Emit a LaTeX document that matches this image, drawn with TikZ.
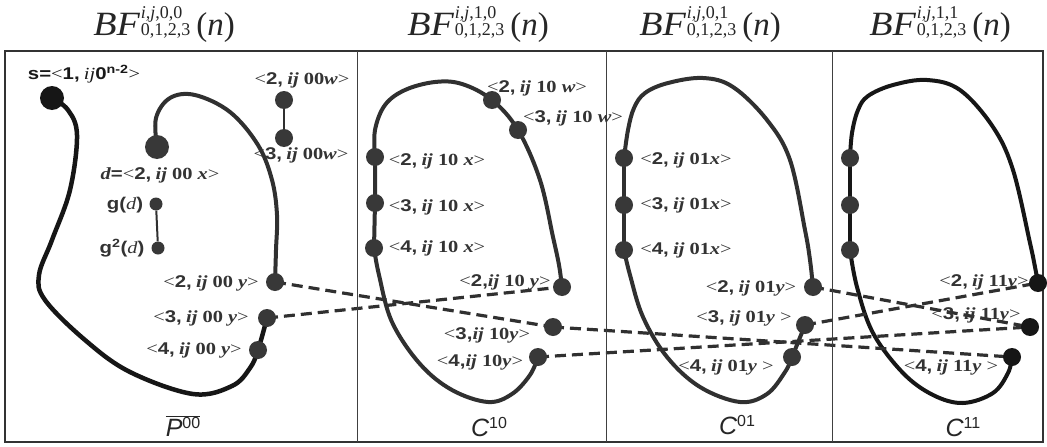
\documentclass[tikz,border=0pt]{standalone}
\usepackage{fontspec}
\setmainfont{Liberation Serif}
\newfontfamily\lf[FakeStretch=1.2]{Liberation Serif}
\newfontfamily\lsf[FakeStretch=1.2]{Liberation Sans}
\newfontfamily\tf[FakeStretch=1.12]{Liberation Serif}
\newfontfamily\capsf{Liberation Sans}
\pgfdeclarelayer{bg}
\pgfsetlayers{bg,main}
\definecolor{linec}{HTML}{303030}
\definecolor{darkc}{HTML}{161616}
\definecolor{dotc}{HTML}{383838}
\definecolor{txtc}{HTML}{333333}
\newcommand\lab[2]{{\lf\mdseries<}{\lsf\bfseries #1,}\ {\lf\bfseries #2}{\lf\mdseries>}}
\newcommand\labt[2]{{\lf\mdseries<}{\lsf\bfseries #1,}{\lf\bfseries #2}{\lf\mdseries>}}
\newcommand\ttl[1]{{\fontsize{34}{34}\selectfont\tf\itshape BF}\kern1pt{\fontsize{18}{13.5}\selectfont\begin{tabular}[b]{@{}l@{}}\textit{i,j},#1\\0,1,2,3\end{tabular}}\kern6pt{\fontsize{33}{33}\selectfont(\textit{n})}}
\newcommand\cl[2]{{\fontsize{25}{25}\selectfont\capsf\itshape #1}\raisebox{8pt}{\fontsize{16}{16}\selectfont\capsf #2}}
\tikzset{
  dotn/.style={circle, fill=dotc, inner sep=0pt, minimum size=18pt},
  bigdot/.style={dotn, minimum size=24pt},
  smalldot/.style={dotn, minimum size=13pt},
  curve/.style={line width=4pt, draw=linec, line cap=round, line join=round},
  dashl/.style={line width=3.2pt, draw=linec, dash pattern=on 11pt off 6pt},
  thinl/.style={line width=2pt, draw=linec},
  lbl/.style={inner sep=0pt, text=txtc, font=\fontsize{17}{17}\selectfont},
  ttlst/.style={inner sep=0pt, anchor=base, text=black!85},
  frame/.style={line width=1.2pt, draw=black!80},
  divl/.style={line width=1pt, draw=black!75}
}
\begin{document}
\begin{tikzpicture}[x=1pt,y=-1pt]
\useasboundingbox (0,0) rectangle (1047,447);
% titles
\node[ttlst] (t1) at (164,35) {\ttl{0,0}};
\node[ttlst] (t2) at (478,35) {\ttl{1,0}};
\node[ttlst] (t3) at (710,35) {\ttl{0,1}};
\node[ttlst] (t4) at (940,35) {\ttl{1,1}};
% frame
\draw[frame] (5,51) rectangle (1043,442);
\draw[divl] (357,51) -- (357,442);
\draw[divl] (606,51) -- (606,442);
\draw[divl] (832,51) -- (832,442);
% ---------- P00 dots
\node[bigdot, fill=darkc] (s) at (52,98) {};
\node[bigdot] (d) at (157,147) {};
\node[smalldot] (g1) at (156,204) {};
\node[smalldot] (g2) at (158,248) {};
\node[dotn] (aw2) at (284,100) {};
\node[dotn] (aw3) at (284,138) {};
\node[dotn] (ay2) at (275,282) {};
\node[dotn] (ay3) at (267,318) {};
\node[dotn] (ay4) at (258,350) {};
% ---------- C10 dots
\node[dotn] (bx2) at (375,157) {};
\node[dotn] (bx3) at (375,203) {};
\node[dotn] (bx4) at (374,248) {};
\node[dotn] (bw2) at (492,100) {};
\node[dotn] (bw3) at (518,130) {};
\node[dotn] (by2) at (562,287) {};
\node[dotn] (by3) at (553,327) {};
\node[dotn] (by4) at (538,357) {};
% ---------- C01 dots
\node[dotn] (cx2) at (624,158) {};
\node[dotn] (cx3) at (624,205) {};
\node[dotn] (cx4) at (624,250) {};
\node[dotn] (cy2) at (813,287) {};
\node[dotn] (cy3) at (805,325) {};
\node[dotn] (cy4) at (792,357) {};
% ---------- C11 dots
\node[dotn] (ex2) at (850,158) {};
\node[dotn] (ex3) at (850,205) {};
\node[dotn] (ex4) at (850,250) {};
\node[dotn, fill=darkc] (ey2) at (1038,283) {};
\node[dotn, fill=darkc] (ey3) at (1030,327) {};
\node[dotn, fill=darkc] (ey4) at (1012,357) {};
% ---------- lines
\begin{pgfonlayer}{bg}
\fill[white] (0,0) rectangle (1047,447);
\draw[curve, draw=darkc, line width=4.5pt] plot[smooth, tension=0.6] coordinates {(s.center) (68,110) (77,135) (70,190) (52,240) (39,275) (45,300) (85,340) (130,372) (193,394) (232,386) (250,368) (ay4.center) (ay3.center)};
\draw[curve] plot[smooth, tension=0.6] coordinates {(d.center) (156,118) (170,98) (195,95) (230,112) (258,145) (272,180) (277,215) (276,250) (ay2.center)};
\draw[thinl] (aw2) -- (aw3);
\draw[thinl] (g1) -- (g2);
% C10
\draw[curve] (bx4.center) -- (bx3.center) -- (bx2.center);
\draw[curve] plot[smooth, tension=0.6] coordinates {(bx2.center) (375,130) (385,105) (405,90) (435,82) (462,84) (bw2.center) (bw3.center) (540,180) (553,237) (559,265) (by2.center)};
\draw[curve] plot[smooth, tension=0.6] coordinates {(bx4.center) (379,275) (392,322) (420,364) (452,390) (488,402) (512,394) (530,375) (by4.center)};
% C01
\draw[curve] (cx4.center) -- (cx3.center) -- (cx2.center);
\draw[curve] plot[smooth, tension=0.6] coordinates {(cx2.center) (628,130) (634,108) (645,93) (668,83) (703,78) (733,87) (767,120) (790,160) (805,230) (810,260) (cy2.center)};
\draw[curve] plot[smooth, tension=0.6] coordinates {(cx4.center) (630,275) (643,317) (667,357) (700,387) (740,402) (767,394) (785,372) (cy4.center) (cy3.center)};
% C11
\draw[curve, draw=darkc] (ex4.center) -- (ex3.center) -- (ex2.center);
\draw[curve, draw=darkc] plot[smooth, tension=0.6] coordinates {(ex2.center) (852,133) (858,110) (868,96) (893,85) (927,80) (960,90) (993,127) (1013,170) (1030,243) (1035,267) (ey2.center)};
\draw[curve, draw=darkc] plot[smooth, tension=0.6] coordinates {(ex4.center) (857,287) (873,333) (903,373) (933,395) (963,403) (993,393) (1008,373) (ey4.center)};
% dashed
\draw[dashl] (ay2.center) -- (by3.center);
\draw[dashl] (ay3.center) -- (by2.center);
\draw[dashl] (by3.center) -- (ey4.center);
\draw[dashl] (by4.center) -- (ey3.center);
\draw[dashl] (cy2.center) -- (ey3.center);
\draw[dashl] (cy3.center) -- (ey2.center);
\end{pgfonlayer}
% ---------- labels P00
\node[lbl, text=black!90] (ls) at (84,74) {{\lsf\bfseries s=}{\lf<}{\lsf\bfseries 1,} {\lf\itshape ij}{\lsf\bfseries 0\textsuperscript{n-2}}{\lf>}};
\node[lbl] (law2) at (302,80) {\lab{2}{\textit{ij} 00\textit{w}}};
\node[lbl] (law3) at (301,155) {\lab{3}{\textit{ij} 00\textit{w}}};
\node[lbl] (ld) at (160,175) {{\lf\bfseries\itshape d}{\lsf\bfseries =}\lab{2}{\textit{ij} 00 \textit{x}}};
\node[lbl] (lg1) at (125,205) {{\lsf\bfseries g(}{\lf\itshape d}{\lsf\bfseries )}};
\node[lbl] (lg2) at (122,248) {{\lsf\bfseries g\textsuperscript{2}(}{\lf\itshape d}{\lsf\bfseries )}};
\node[lbl] (lay2) at (211,283) {\lab{2}{\textit{ij} 00 \textit{y}}};
\node[lbl] (lay3) at (201,318) {\lab{3}{\textit{ij} 00 \textit{y}}};
\node[lbl] (lay4) at (194,350) {\lab{4}{\textit{ij} 00 \textit{y}}};
\node[inner sep=0pt, text=black!85] (lp) at (183,426) {$\overline{\mbox{\cl{P}{00}}}$};
% ---------- labels C10
\node[lbl] (lbw2) at (537,88) {\lab{2}{\textit{ij} 10 \textit{w}}};
\node[lbl] (lbw3) at (573,118) {\lab{3}{\textit{ij} 10 \textit{w}}};
\node[lbl] (lbx2) at (437,161) {\lab{2}{\textit{ij} 10 \textit{x}}};
\node[lbl] (lbx3) at (437,207) {\lab{3}{\textit{ij} 10 \textit{x}}};
\node[lbl] (lbx4) at (437,248) {\lab{4}{\textit{ij} 10 \textit{x}}};
\node[lbl] (lby2) at (505,282) {\labt{2}{\textit{ij} 10 \textit{y}}};
\node[lbl] (lby3) at (487,335) {\labt{3}{\textit{ij} 10\textit{y}}};
\node[lbl] (lby4) at (480,362) {\labt{4}{\textit{ij} 10\textit{y}}};
\node[inner sep=0pt, text=black!85] (lc10) at (489,427) {\cl{C}{10}};
% ---------- labels C01
\node[lbl] (lcx2) at (686,160) {\lab{2}{\textit{ij} 01\textit{x}}};
\node[lbl] (lcx3) at (686,205) {\lab{3}{\textit{ij} 01\textit{x}}};
\node[lbl] (lcx4) at (686,250) {\lab{4}{\textit{ij} 01\textit{x}}};
\node[lbl] (lcy2) at (751,288) {\lab{2}{\textit{ij} 01\textit{y}}};
\node[lbl] (lcy3) at (744,318) {\lab{3}{\textit{ij} 01\textit{y}\ }};
\node[lbl] (lcy4) at (726,367) {\lab{4}{\textit{ij} 01\textit{y}\ }};
\node[inner sep=0pt, text=black!85] (lc01) at (737,425) {\cl{C}{01}};
% ---------- labels C11
\node[lbl] (ley2) at (984,282) {\lab{2}{\textit{ij} 11\textit{y}}};
\node[lbl] (ley3) at (976,315) {\lab{3}{\textit{ij} 11\textit{y}}};
\node[lbl] (ley4) at (951,367) {\lab{4}{\textit{ij} 11\textit{y}\ }};
\node[inner sep=0pt, text=black!85] (lc11) at (963,427) {\cl{C}{11}};
\end{tikzpicture}
\end{document}
